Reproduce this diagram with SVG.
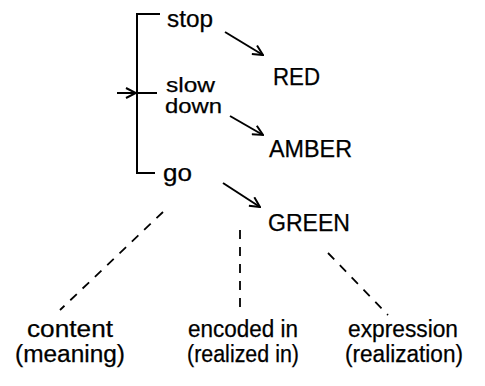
<svg xmlns="http://www.w3.org/2000/svg" width="485" height="386" viewBox="0 0 485 386">
<style>
.t{font-family:"Liberation Sans",Arial,sans-serif;font-size:23px;fill:#000;stroke:#000;stroke-width:0.25}
.s{font-size:21px}
.ln{stroke:#000;stroke-width:2;fill:none}
.ar{stroke:#000;stroke-width:2;fill:none;marker-end:url(#ah)}
.ds{stroke:#000;stroke-width:1.8;fill:none;stroke-dasharray:9 8}
</style>
<defs>
<marker id="ah" viewBox="0 0 12 12" refX="11" refY="6" markerWidth="12" markerHeight="12" markerUnits="userSpaceOnUse" orient="auto">
<path d="M1,1 L11,6 L1,11" fill="none" stroke="#000" stroke-width="2"/>
</marker>
</defs>
<rect width="485" height="386" fill="#fff"/>
<g id="connectors">
<path id="bracket" class="ln" d="M160,14 H137 V173 H155"/>
<line class="ln" x1="137" y1="93" x2="157" y2="93"/>
<line class="ar" x1="117" y1="93" x2="136" y2="93"/>
<line class="ar" x1="225" y1="32" x2="263" y2="55"/>
<line class="ar" x1="230" y1="116" x2="263" y2="135"/>
<line class="ar" x1="223" y1="183" x2="260" y2="207"/>
<line class="ds" x1="163" y1="212" x2="60" y2="310"/>
<line class="ds" x1="240" y1="230" x2="240" y2="312"/>
<line class="ds" x1="328" y1="253" x2="388" y2="315"/>
</g>
<g id="stop"><text class="t" x="167" y="27" textLength="46" lengthAdjust="spacingAndGlyphs">stop</text></g>
<g id="slow-down"><text class="t s" x="166" y="92" textLength="49" lengthAdjust="spacingAndGlyphs">slow</text><text class="t s" x="165" y="113" textLength="57" lengthAdjust="spacingAndGlyphs">down</text></g>
<g id="go"><text class="t" x="163" y="181" textLength="29" lengthAdjust="spacingAndGlyphs">go</text></g>
<g id="red"><text class="t" x="273" y="85" textLength="47" lengthAdjust="spacingAndGlyphs">RED</text></g>
<g id="amber"><text class="t" x="269" y="157" textLength="83" lengthAdjust="spacingAndGlyphs">AMBER</text></g>
<g id="green"><text class="t" x="268" y="231" textLength="82" lengthAdjust="spacingAndGlyphs">GREEN</text></g>
<g id="content"><text class="t" x="27" y="337" textLength="86" lengthAdjust="spacingAndGlyphs">content</text><text class="t" x="15" y="362" textLength="110" lengthAdjust="spacingAndGlyphs">(meaning)</text></g>
<g id="encoded"><text class="t" x="188" y="337" textLength="110" lengthAdjust="spacingAndGlyphs">encoded in</text><text class="t" x="187" y="362" textLength="112" lengthAdjust="spacingAndGlyphs">(realized in)</text></g>
<g id="expression"><text class="t" x="348" y="337" textLength="110" lengthAdjust="spacingAndGlyphs">expression</text><text class="t" x="345" y="362" textLength="118" lengthAdjust="spacingAndGlyphs">(realization)</text></g>
</svg>
